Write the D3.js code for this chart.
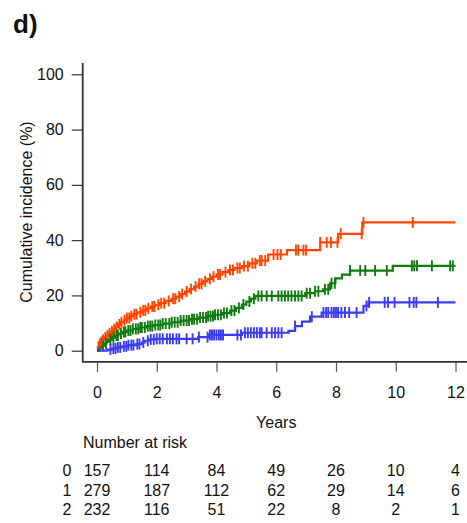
<!DOCTYPE html>
<html>
<head>
<meta charset="utf-8">
<script src="https://cdn.jsdelivr.net/npm/d3@7"></script>
<style>
  html, body { margin: 0; padding: 0; background: #fff; }
  svg { display: block; font-family: "Liberation Sans", Arial, Helvetica, sans-serif; }
</style>
</head>
<body>
<svg id="chart" width="467" height="523"></svg>
<script>
// ---------------- data ----------------
const xTicks = [0, 2, 4, 6, 8, 10, 12];
const yTicks = [0, 20, 40, 60, 80, 100];

// group 0 (orange): event times and cumulative incidence (%) after each step
const g0Times  = [0.03,0.08,0.12,0.18,0.25,0.32,0.40,0.48,0.55,0.62,0.70,0.80,0.90,1.00,1.10,1.22,1.35,1.50,1.65,1.80,1.95,2.10,2.30,2.50,2.65,2.80,2.95,3.10,3.25,3.40,3.55,3.70,3.85,4.00,4.20,4.40,4.60,4.85,5.10,5.35,5.73,6.36,7.47,8.07,8.88];
const g0Values = [1.5,2.5,3.2,4.0,4.8,5.5,6.3,7.0,7.8,8.6,9.5,10.3,11.0,11.8,12.5,13.2,13.9,14.6,15.3,16.0,16.6,17.2,18.0,18.8,19.6,20.5,21.4,22.3,23.2,24.2,25.1,26.0,26.8,27.6,28.4,29.2,29.9,30.6,31.6,32.6,34.8,36.4,39.2,42.3,46.4];
const g0Censor = [0.05,0.10,0.15,0.20,0.28,0.35,0.42,0.50,0.58,0.66,0.75,0.82,0.92,1.00,1.08,1.15,1.25,1.32,1.45,1.55,1.62,1.72,1.85,1.92,2.05,2.15,2.25,2.40,2.55,2.62,2.75,2.85,3.00,3.15,3.30,3.42,3.50,3.62,3.78,3.90,4.05,4.12,4.30,4.45,4.55,4.70,4.78,4.92,5.05,5.20,5.30,5.45,5.51,5.63,5.91,6.04,6.15,6.66,6.74,6.91,7.00,7.47,7.69,7.83,8.05,8.16,8.86,8.92,10.57];

// group 1 (green)
const g1Times  = [0.05,0.10,0.18,0.25,0.32,0.40,0.50,0.60,0.72,0.85,1.00,1.20,1.40,1.65,1.90,2.20,2.50,2.80,3.10,3.40,3.70,3.95,4.20,4.45,4.65,4.85,5.00,5.15,5.30,6.97,7.30,7.57,7.80,7.98,8.20,8.47,9.90];
const g1Values = [0.5,1.0,1.8,2.6,3.3,4.0,4.8,5.5,6.2,6.8,7.3,7.9,8.4,8.9,9.3,9.8,10.3,10.9,11.4,12.0,12.5,13.0,13.6,14.5,15.5,16.7,17.8,18.8,19.8,20.8,21.5,22.2,24.4,26.2,27.5,29.0,30.7];
const g1Censor = [0.20,0.30,0.45,0.55,0.65,0.70,0.80,0.90,0.95,1.05,1.12,1.20,1.30,1.38,1.45,1.50,1.60,1.70,1.78,1.85,1.95,2.05,2.12,2.20,2.30,2.42,2.50,2.60,2.70,2.80,2.90,3.00,3.08,3.18,3.25,3.35,3.45,3.55,3.65,3.72,3.80,3.88,3.95,4.05,4.15,4.25,4.35,4.50,4.60,4.75,4.90,5.10,5.25,5.40,5.51,5.68,5.85,6.07,6.18,6.29,6.40,6.51,6.63,6.74,6.85,7.02,7.13,7.30,7.41,7.63,7.74,7.85,7.96,8.47,8.81,8.98,9.31,9.70,10.54,10.62,10.71,11.21,11.82,11.91];

// group 2 (blue)
const g2Times  = [0.35,0.50,0.65,0.85,1.05,1.30,1.50,1.60,1.75,1.95,3.39,3.73,4.85,6.41,6.63,6.86,7.13,7.52,8.92,9.09];
const g2Values = [0.4,0.8,1.2,1.6,2.0,2.4,3.0,3.6,4.1,4.3,4.9,5.7,6.5,7.2,8.9,10.5,12.3,13.8,16.2,17.5];
const g2Censor = [0.45,0.55,0.62,0.70,0.78,0.90,0.98,1.05,1.15,1.22,1.35,1.42,1.55,1.70,1.80,1.90,2.00,2.10,2.20,2.34,2.44,2.54,2.66,2.75,3.00,3.20,3.41,3.70,3.78,3.85,3.92,4.00,4.08,4.15,4.22,4.70,4.82,4.95,5.05,5.15,5.25,5.35,5.45,5.51,5.68,5.85,5.96,6.07,6.18,6.63,7.19,7.58,7.67,7.74,7.85,7.93,8.00,8.07,8.18,8.30,8.44,8.69,9.02,9.11,9.63,9.74,9.96,10.46,10.60,10.69,11.41];

// number at risk
const riskGroups = ["0", "1", "2"];
const risk0 = [157, 114, 84, 49, 26, 10, 4];
const risk1 = [279, 187, 112, 62, 29, 14, 6];
const risk2 = [232, 116, 51, 22, 8, 2, 1];

const colors = ["#ff4500", "#117a11", "#3b3bf2"];
const endTime = 12;

// ---------------- drawing ----------------
const svg = d3.select("#chart");
const x = d3.scaleLinear().domain([0, 12]).range([97, 455.5]);
const y = d3.scaleLinear().domain([0, 100]).range([350.7, 74.3]);

const frameLeft = 82.7, frameBottom = 361.8, frameTop = 63, frameRight = 467;

// title
svg.append("text").attr("x", 13).attr("y", 33)
  .attr("font-size", 26).attr("font-weight", "bold").attr("fill", "#111")
  .text("d)");

// frame (L-shape)
svg.append("path")
  .attr("d", `M${frameLeft},${frameTop} V${frameBottom} H${frameRight}`)
  .attr("fill", "none").attr("stroke", "#333").attr("stroke-width", 1.8);

// y axis
const yAxis = svg.append("g").attr("transform", `translate(${frameLeft},0)`)
  .call(d3.axisLeft(y).tickValues(yTicks).tickSize(11).tickPadding(8));
yAxis.select(".domain").remove();
yAxis.selectAll(".tick line").attr("stroke", "#333").attr("stroke-width", 1.2);
yAxis.selectAll(".tick text").attr("font-size", 16).attr("fill", "#111")
  .attr("font-family", "Liberation Sans, Arial, sans-serif");

// x axis
const xAxis = svg.append("g").attr("transform", `translate(0,${frameBottom})`)
  .call(d3.axisBottom(x).tickValues(xTicks).tickSize(10).tickPadding(15));
xAxis.select(".domain").remove();
xAxis.selectAll(".tick line").attr("stroke", "#555").attr("stroke-width", 1.2);
xAxis.selectAll(".tick text").attr("font-size", 16).attr("fill", "#111")
  .attr("font-family", "Liberation Sans, Arial, sans-serif");

// axis titles
svg.append("text")
  .attr("transform", `translate(26,212) rotate(-90)`)
  .attr("text-anchor", "middle").attr("dominant-baseline", "central")
  .attr("font-size", 16).attr("fill", "#111")
  .text("Cumulative incidence (%)");

svg.append("text").attr("x", x(6)).attr("y", 422)
  .attr("text-anchor", "middle").attr("dominant-baseline", "central")
  .attr("font-size", 16).attr("fill", "#111").text("Years");

// curves
const groups = [
  { times: g0Times, values: g0Values, censor: g0Censor },
  { times: g1Times, values: g1Values, censor: g1Censor },
  { times: g2Times, values: g2Values, censor: g2Censor }
];

function valueAt(g, t) {
  const i = d3.bisectRight(g.times, t);
  return i === 0 ? 0 : g.values[i - 1];
}

const line = d3.line().x(d => x(d[0])).y(d => y(d[1])).curve(d3.curveStepAfter);

groups.forEach((g, k) => {
  const pts = [[0, 0]].concat(g.times.map((t, i) => [t, g.values[i]]));
  pts.push([endTime, g.values[g.values.length - 1]]);
  svg.append("path").datum(pts)
    .attr("d", line)
    .attr("fill", "none").attr("stroke", colors[k]).attr("stroke-width", 2.2);

  svg.append("g").selectAll("line").data(g.censor).join("line")
    .attr("x1", d => x(d)).attr("x2", d => x(d))
    .attr("y1", d => y(valueAt(g, d)) - 5.5)
    .attr("y2", d => y(valueAt(g, d)) + 5.5)
    .attr("stroke", colors[k]).attr("stroke-width", 1.9);
});

// number at risk table
svg.append("text").attr("x", 83).attr("y", 442)
  .attr("dominant-baseline", "central")
  .attr("font-size", 16).attr("fill", "#111").text("Number at risk");

const riskRows = [risk0, risk1, risk2];
const rowY = [470, 490, 509.5];
riskRows.forEach((row, r) => {
  svg.append("text").attr("x", 67).attr("y", rowY[r])
    .attr("text-anchor", "middle").attr("dominant-baseline", "central")
    .attr("font-size", 16).attr("fill", "#111").text(riskGroups[r]);
  svg.append("g").selectAll("text").data(row).join("text")
    .attr("x", (d, i) => x(xTicks[i]))
    .attr("y", rowY[r])
    .attr("text-anchor", "middle").attr("dominant-baseline", "central")
    .attr("font-size", 16).attr("fill", "#111")
    .text(d => d);
});
</script>
</body>
</html>
